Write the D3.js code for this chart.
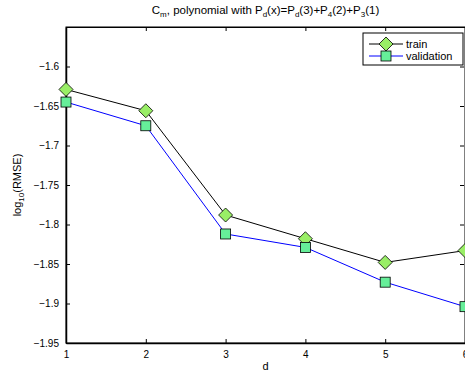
<!DOCTYPE html>
<html>
<head>
<meta charset="utf-8">
<script src="https://cdn.jsdelivr.net/npm/d3@7"></script>
<style>
  body { margin: 0; background: #fff; }
  text { font-family: "Liberation Sans", Arial, sans-serif; }
</style>
</head>
<body>
<div id="chart"></div>
<script>
var degrees = [1, 2, 3, 4, 5, 6];
var trainValues = [-1.629, -1.656, -1.788, -1.818, -1.848, -1.833];
var validationValues = [-1.645, -1.675, -1.812, -1.829, -1.873, -1.904];
var yTicks = [-1.95, -1.9, -1.85, -1.8, -1.75, -1.7, -1.65, -1.6];

var width = 465, height = 380;
var margin = {top: 27, right: 0, bottom: 37, left: 66};

var svg = d3.select("#chart").append("svg")
    .attr("width", width)
    .attr("height", height);

var x = d3.scaleLinear().domain([1, 6]).range([margin.left, width - margin.right]);
var y = d3.scaleLinear().domain([-1.95, -1.55]).range([height - margin.bottom, margin.top]);

var fmt = function(d) { return d3.format("")(d).replace("-", "\u2212"); };

// plot box
svg.append("rect")
    .attr("x", x(1)).attr("y", y(-1.55))
    .attr("width", x(6) - x(1)).attr("height", y(-1.95) - y(-1.55))
    .attr("fill", "none").attr("stroke", "#000").attr("stroke-width", 1);

// axes (ticks inward)
var xAxis = svg.append("g")
    .attr("transform", "translate(0," + y(-1.95) + ")")
    .call(d3.axisBottom(x).tickValues(degrees).tickSizeInner(-4).tickSizeOuter(0).tickPadding(8).tickFormat(d3.format("d")));
var xAxisTop = svg.append("g")
    .attr("transform", "translate(0," + y(-1.55) + ")")
    .call(d3.axisTop(x).tickValues(degrees).tickSizeInner(-4).tickSizeOuter(0).tickFormat(""));
var yAxis = svg.append("g")
    .attr("transform", "translate(" + x(1) + ",0)")
    .call(d3.axisLeft(y).tickValues(yTicks).tickSizeInner(-4).tickSizeOuter(0).tickPadding(7).tickFormat(fmt));
var yAxisRight = svg.append("g")
    .attr("transform", "translate(" + (x(6) - 1) + ",0)")
    .call(d3.axisRight(y).tickValues(yTicks).tickSizeInner(-4).tickSizeOuter(0).tickFormat(""));

[xAxis, xAxisTop, yAxis, yAxisRight].forEach(function(g) {
    g.select(".domain").attr("stroke", "#000").attr("stroke-width", 1.5);
    g.selectAll("text").attr("font-size", 10).attr("fill", "#000")
        .style("font-family", "'Liberation Sans', Arial, sans-serif");
});
xAxisTop.select(".domain").attr("stroke-width", 1);
yAxisRight.select(".domain").remove();

// lines
var trainLine = d3.line().x(function(d, i) { return x(degrees[i]); }).y(function(d) { return y(d); });

svg.append("path").datum(trainValues)
    .attr("d", trainLine).attr("fill", "none").attr("stroke", "#000").attr("stroke-width", 1);
svg.append("path").datum(validationValues)
    .attr("d", trainLine).attr("fill", "none").attr("stroke", "#0000ff").attr("stroke-width", 1);

var diamond = function(cx, cy, r) {
    return "M" + cx + "," + (cy - r) + "L" + (cx + r) + "," + cy + "L" + cx + "," + (cy + r) + "L" + (cx - r) + "," + cy + "Z";
};

svg.selectAll(".train-pt").data(trainValues).enter().append("path")
    .attr("class", "train-pt")
    .attr("d", function(d, i) { return diamond(x(degrees[i]), y(d), 7); })
    .attr("fill", "#99ee66").attr("stroke", "#000").attr("stroke-width", 0.8);

svg.selectAll(".val-pt").data(validationValues).enter().append("rect")
    .attr("class", "val-pt")
    .attr("x", function(d, i) { return x(degrees[i]) - 5; })
    .attr("y", function(d) { return y(d) - 5; })
    .attr("width", 10).attr("height", 10)
    .attr("fill", "#66ee99").attr("stroke", "#000").attr("stroke-width", 0.8);

// legend
var legend = svg.append("g");
legend.append("rect")
    .attr("x", 363).attr("y", 33).attr("width", 100).attr("height", 32)
    .attr("fill", "#fff").attr("stroke", "#000").attr("stroke-width", 1);
legend.append("line").attr("x1", 369).attr("x2", 403).attr("y1", 44).attr("y2", 44).attr("stroke", "#000");
legend.append("path").attr("d", diamond(386, 44, 7)).attr("fill", "#99ee66").attr("stroke", "#000").attr("stroke-width", 0.8);
legend.append("text").attr("x", 406).attr("y", 48).attr("font-size", 11).text("train");
legend.append("line").attr("x1", 369).attr("x2", 403).attr("y1", 56).attr("y2", 56).attr("stroke", "#0000ff");
legend.append("rect").attr("x", 381).attr("y", 51).attr("width", 10).attr("height", 10)
    .attr("fill", "#66ee99").attr("stroke", "#000").attr("stroke-width", 0.8);
legend.append("text").attr("x", 406).attr("y", 60).attr("font-size", 11).text("validation");

// title
var title = svg.append("text")
    .attr("x", (x(1) + x(6)) / 2).attr("y", 14)
    .attr("text-anchor", "middle").attr("font-size", 11.5);
title.append("tspan").text("C");
title.append("tspan").attr("font-size", 8).attr("dy", 3).text("m");
title.append("tspan").attr("dy", -3).text(", polynomial with P");
title.append("tspan").attr("font-size", 8).attr("dy", 3).text("d");
title.append("tspan").attr("dy", -3).text("(x)=P");
title.append("tspan").attr("font-size", 8).attr("dy", 3).text("d");
title.append("tspan").attr("dy", -3).text("(3)+P");
title.append("tspan").attr("font-size", 8).attr("dy", 3).text("4");
title.append("tspan").attr("dy", -3).text("(2)+P");
title.append("tspan").attr("font-size", 8).attr("dy", 3).text("3");
title.append("tspan").attr("dy", -3).text("(1)");

// axis labels
svg.append("text")
    .attr("x", (x(1) + x(6)) / 2).attr("y", 370)
    .attr("text-anchor", "middle").attr("font-size", 11).text("d");

var yLabel = svg.append("text")
    .attr("transform", "translate(21," + ((y(-1.95) + y(-1.55)) / 2) + ") rotate(-90)")
    .attr("text-anchor", "middle").attr("font-size", 11);
yLabel.append("tspan").text("log");
yLabel.append("tspan").attr("font-size", 8).attr("dy", 3).text("10");
yLabel.append("tspan").attr("dy", -3).text("(RMSE)");
</script>
</body>
</html>
